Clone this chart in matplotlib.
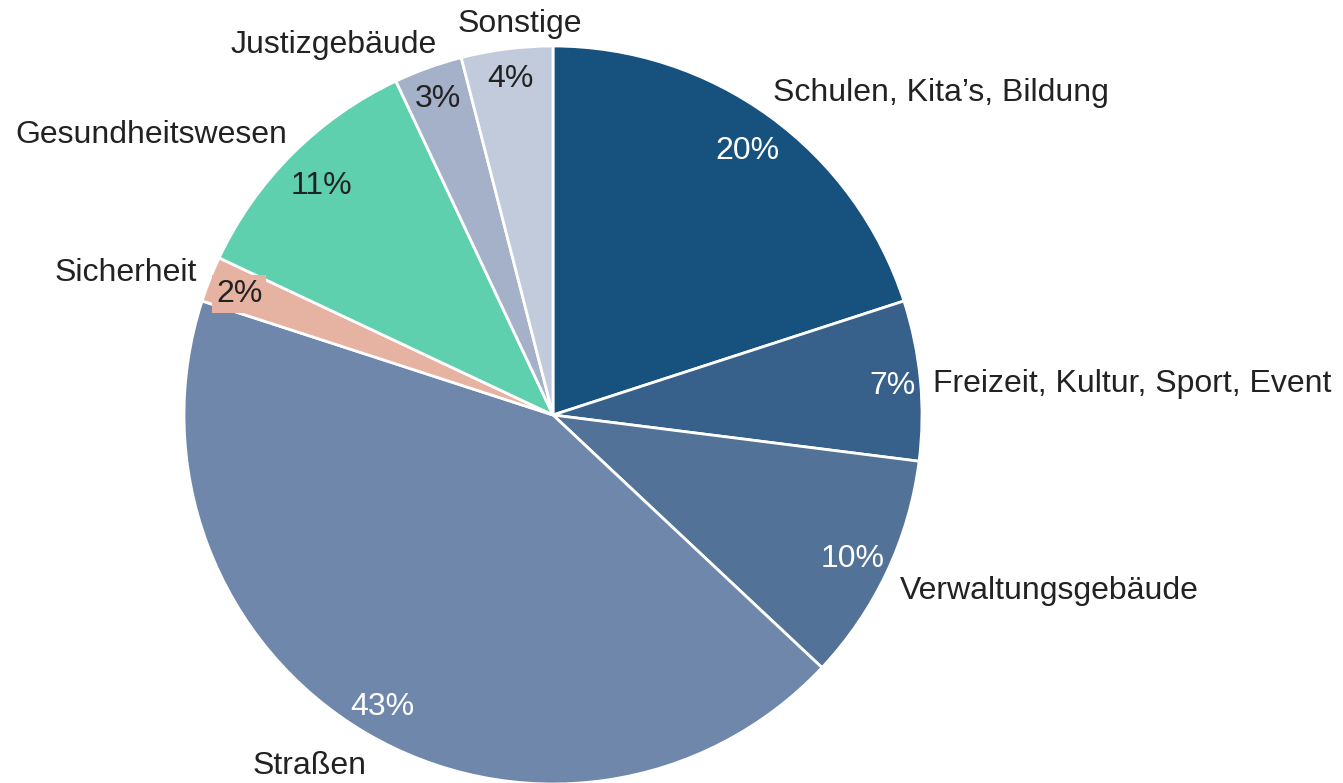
import numpy as np
import matplotlib.pyplot as plt

plt.rcParams['font.family'] = ['Liberation Sans', 'DejaVu Sans']

# data
categories = ["Schulen, Kita\u2019s, Bildung", "Freizeit, Kultur, Sport, Event",
              "Verwaltungsgeb\u00e4ude", "Stra\u00dfen", "Sicherheit",
              "Gesundheitswesen", "Justizgeb\u00e4ude", "Sonstige"]
shares = [20, 7, 10, 43, 2, 11, 3, 4]
colors = ["#17527e", "#37608a", "#527397", "#6e87ab", "#e6b3a2",
          "#5fd0ad", "#a5b1c9", "#c2cbdc"]
pct_colors = ["white", "white", "white", "white", "#222222",
              "#222222", "#222222", "#222222"]

# radial distance of each percentage label (pie radius units)
pct_dist = [0.896, 0.925, 0.896, 0.909, 0.915, 0.889, 0.918, 0.926]

# label anchors (in pie radius units) and alignment
label_pos = [(0.596, 0.880), (1.030, 0.092), (0.940, -0.469), (-0.659, -0.944),
             (-0.965, 0.393), (-0.721, 0.767), (-0.314, 1.011), (-0.089, 1.068)]
label_ha = ["left", "left", "left", "center", "right", "right", "right", "center"]

W, H = 1343, 783
cx, cy, r = 553, 415, 369
dy = 3 / r  # va='center' sits a bit below the cap centre

fig = plt.figure(figsize=(W / 100, H / 100), dpi=100)
ax = fig.add_axes([(cx - r) / W, (H - cy - r) / H, 2 * r / W, 2 * r / H])

wedges, texts = ax.pie(shares, colors=colors, startangle=90, counterclock=False,
                       radius=1, wedgeprops=dict(edgecolor="white", linewidth=2))

# percentage labels
for w, v, c, d in zip(wedges, shares, pct_colors, pct_dist):
    ang = np.deg2rad((w.theta1 + w.theta2) / 2)
    t = ax.text(d * np.cos(ang), d * np.sin(ang) - dy, f"{v}%", ha="center", va="center",
                fontsize=23, color=c)
    if v == 2:
        t.set_bbox(dict(boxstyle="square,pad=0.12", fc=w.get_facecolor(), ec="none"))

for name, (x, y), ha in zip(categories, label_pos, label_ha):
    ax.text(x, y - dy, name, ha=ha, va="center", fontsize=23, color="#222222")

ax.set_xlim(-1, 1)
ax.set_ylim(-1, 1)
ax.set_aspect("equal")
ax.axis("off")

fig.savefig("out.png", dpi=100)
